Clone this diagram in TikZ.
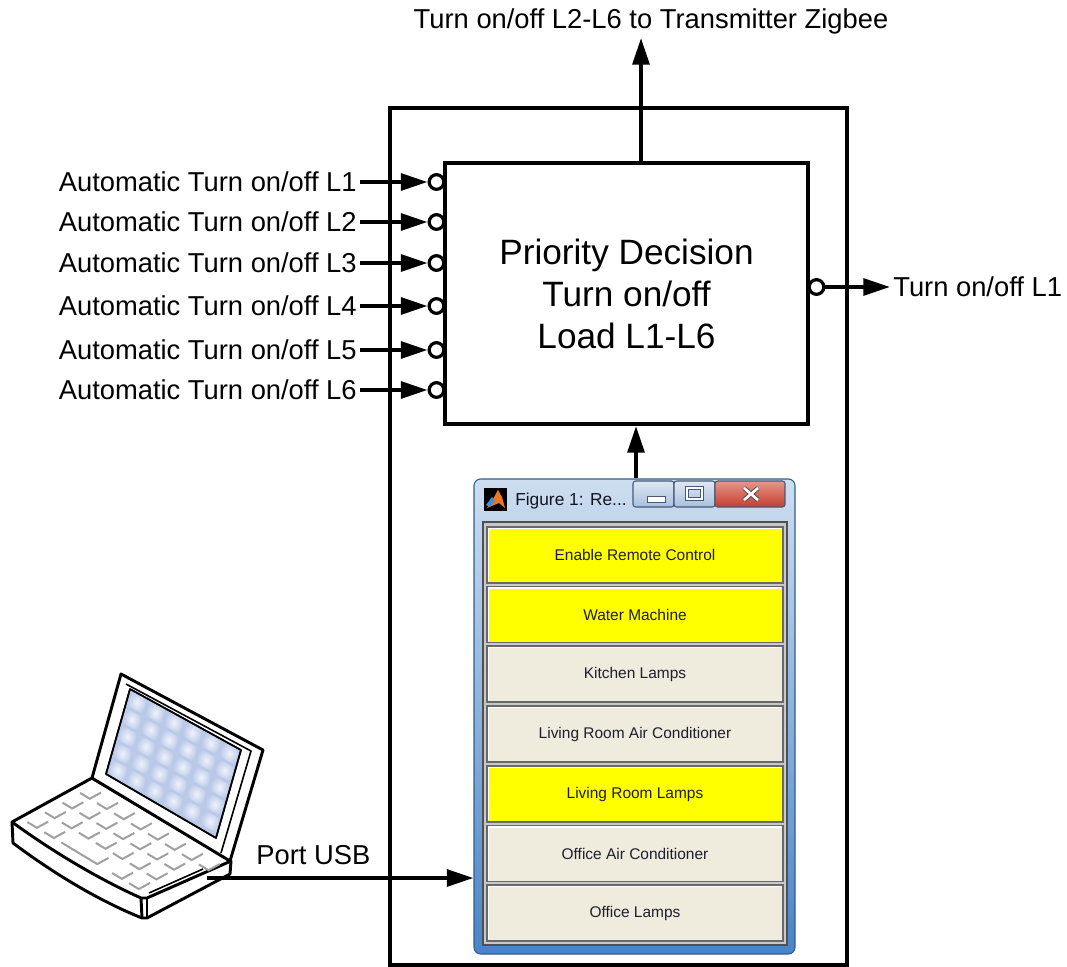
\documentclass[tikz,border=0pt]{standalone}
\usepackage{fontspec}
\setmainfont{Liberation Sans}
\usetikzlibrary{arrows.meta,calc}

\definecolor{btnyellow}{RGB}{255,255,0}
\definecolor{btnbeige}{RGB}{239,236,222}
\definecolor{btnedge}{RGB}{105,105,105}
\definecolor{btntext}{RGB}{30,30,45}
\definecolor{clientgray}{RGB}{200,200,200}
\definecolor{clientedge}{RGB}{80,80,80}
\definecolor{frameDark}{RGB}{52,92,140}
\definecolor{frameTop}{RGB}{205,222,240}
\definecolor{frameBot}{RGB}{72,132,200}
\definecolor{capTop}{RGB}{222,232,244}
\definecolor{capBot}{RGB}{168,192,222}
\definecolor{capEdge}{RGB}{70,90,120}
\definecolor{closeTop}{RGB}{232,150,138}
\definecolor{closeBot}{RGB}{196,62,46}
\definecolor{titletext}{RGB}{20,20,30}
\definecolor{keygray}{RGB}{160,160,160}
\definecolor{screenEdge}{RGB}{186,201,232}
\definecolor{screenMid}{RGB}{238,242,251}
\definecolor{mlorange}{RGB}{235,120,30}
\definecolor{mlblue}{RGB}{70,140,210}

\tikzset{
  wire/.style={line width=3pt,-{Triangle[length=20pt,width=12.5pt]}},
  port/.style={circle,draw,fill=white,line width=2.4pt,minimum size=11pt,inner sep=0pt},
  lbl/.style={font=\fontsize{20.5}{24}\selectfont,inner sep=0pt,outer sep=2.5pt,
    text height=14.6pt,text depth=0pt},
  block/.style={draw,line width=3pt,inner sep=0pt,fill=white},
  btn/.style={draw=btnedge,line width=1.3pt,minimum width=222pt,minimum height=42pt,
    inner sep=0pt,text=btntext,font=\fontsize{11.6}{14}\selectfont,
    path picture={\draw[white,line width=1.3pt]
      ([xshift=1.2pt,yshift=1.2pt]path picture bounding box.south west) |-
      ([xshift=-1.2pt,yshift=-1.2pt]path picture bounding box.north east);}},
  laptop/.style={line width=2.2pt,line join=round},
  keystroke/.style={keygray,line width=1.5pt,line join=miter}
}

\begin{document}
\begin{tikzpicture}[x=0.75pt,y=-0.75pt]
\useasboundingbox (0,0) rectangle (1067,967);

% controller housing and decision block
\node[draw,line width=3pt,minimum width=342.75pt,minimum height=642.75pt,inner sep=0pt]
  (housing) at (618.5,536.5) {};
\node[block,minimum width=272.25pt,minimum height=195.75pt,align=center,
  font=\fontsize{26.4}{31.5}\selectfont] (decision) at (626.5,293.5)
  {Priority Decision\\Turn on/off\\Load L1-L6};

% automatic inputs
\foreach \i/\y in {1/182,2/222,3/263,4/306,5/350,6/390}{
  \node[lbl,anchor=east] (in\i) at (360,\y) {Automatic Turn on/off L\i};
  \node[port] (c\i) at (436.5,\y) {};
  \draw[wire] (in\i.east) -- (c\i.west);
}

% output L1
\node[port] (c0) at (816.5,287) {};
\node[lbl,anchor=west] (out1) at (890,287) {Turn on/off L1};
\draw[wire] (c0.east) -- (out1.west);

% output to the Zigbee transmitter
\node[lbl,anchor=base,outer sep=7.5pt] (zigbee) at (651,28)
  {Turn on/off L2-L6 to Transmitter Zigbee};
\coordinate (zup) at ($(decision.north)+(14.5,0)$);
\draw[wire] (zup) -- (zup |- zigbee.south);

% GUI window
\node[draw=frameDark,line width=0.8pt,rounded corners=5pt,top color=frameTop,
  bottom color=frameBot,minimum width=240.75pt,minimum height=356.25pt,inner sep=0pt]
  (gui) at (634.5,716.5) {};
\coordinate (gup) at ($(gui.north)+(1.5,0)$);
\draw[wire] (gup) -- (gup |- decision.south);

% title bar: icon, caption, window buttons
\fill[black] (484,488) rectangle (507,511);
\fill[mlorange] (487,508) -- (493,499) -- (498,490) -- (502,497) -- (505,508) -- (499,503) -- cycle;
\fill[mlblue] (486,505) -- (492,497) -- (495,501) -- (490,507) -- cycle;
\node[anchor=base west,inner sep=0pt,font=\fontsize{13}{15}\selectfont,text=titletext]
  (title) at (515,505) {Figure 1: Re...};
\draw[capEdge,top color=capTop,bottom color=capBot,rounded corners=2pt,line width=0.8pt]
  (633,481) rectangle (674,507);
\draw[capEdge,top color=capTop,bottom color=capBot,rounded corners=2pt,line width=0.8pt]
  (674,481) rectangle (715,507);
\draw[capEdge,top color=closeTop,bottom color=closeBot,rounded corners=2pt,line width=0.8pt]
  (715,481) rectangle (785,507);
\filldraw[fill=white,draw=capEdge,line width=0.6pt] (647,496) rectangle (665,502);
\draw[capEdge,line width=2.6pt] (687,488) rectangle (702,499);
\draw[white,line width=1.3pt] (687,488) rectangle (702,499);
\draw[black!70,line width=3.4pt] (744,488) -- (758,500) (744,500) -- (758,488);
\draw[white,line width=2pt] (744,488) -- (758,500) (744,500) -- (758,488);

% client area and push buttons
\filldraw[fill=clientgray,draw=clientedge,line width=0.8pt] (483,522) rectangle (787,945);
\foreach \n/\y/\c/\t in {
  1/555/btnyellow/Enable Remote Control,
  2/614.5/btnyellow/Water Machine,
  3/674/btnbeige/Kitchen Lamps,
  4/734/btnbeige/Living Room Air Conditioner,
  5/794/btnyellow/Living Room Lamps,
  6/853.5/btnbeige/Office Air Conditioner,
  7/913/btnbeige/Office Lamps}{
  \node[btn,fill=\c] (b\n) at (635,\y) {\t};
}

% laptop
\begin{scope}[laptop]
  \filldraw[fill=white] (12,822) -- (13,843) .. controls (57,876) and (102,902) .. (142,918)
    -- (147,918) -- (230,874) -- (231,861) -- (92,778) -- cycle;
  \draw (12,822) .. controls (56,854) and (101,880) .. (141,898) -- (147,898) -- (231,861);
  \draw (141,898) -- (142,918);
  \draw[line width=1.2pt] (147,898) -- (147,917);
  \draw[line width=1.2pt] (149,893) -- (203,869);
  % keyboard: four rows along the hinge, long space bar in the front row
  \begin{scope}[shift={(69pt,-583.5pt)},x={(103.5pt,-62.25pt)},y={(-60pt,-33pt)},keystroke]
    \foreach \i in {0,...,7}
      \draw ({0.053+0.123*\i},0.24) -- ++(0.07,0) -- ++(0,-0.14);
    \foreach \i in {0,...,6}{
      \draw ({0.053+0.123*\i},0.46) -- ++(0.07,0) -- ++(0,-0.14);
      \draw ({0.053+0.123*\i},0.68) -- ++(0.07,0) -- ++(0,-0.14);
    }
    \foreach \i in {0,1,5,6}
      \draw ({0.053+0.123*\i},0.90) -- ++(0.07,0) -- ++(0,-0.14);
    \draw (0.299,0.90) -- (0.56,0.90) -- ++(0,-0.14);
  \end{scope}
  % lid and screen
  \filldraw[fill=white] (121,674) -- (263,750) -- (230,861) -- (92,778) -- cycle;
  \draw[line width=1.2pt] (126,684) -- (251,751) -- (221,853);
  \filldraw[fill=screenEdge,line width=1.2pt] (130,689) -- (241,750) -- (216,838) -- (106,774) -- cycle;
  \begin{scope}[shift={(97.5pt,-516.75pt)},x={(13.875pt,-7.625pt)},y={(-3.6pt,-12.75pt)}]
    \foreach \i in {0,...,5}
      \foreach \j in {0,...,4}
        \shade[inner color=screenMid,outer color=screenEdge]
          (\i+0.08,\j+0.08) -- ++(0.84,0) -- ++(0,0.84) -- ++(-0.84,0) -- cycle;
  \end{scope}
  \draw[line width=1.2pt] (130,689) -- (241,750) -- (216,838) -- (106,774) -- cycle;
\end{scope}
\coordinate (usb) at (207,878);
\node[lbl,anchor=base west] (portusb) at (253,864) {Port USB};
\draw[wire] (usb) -- (usb -| gui.west);

\end{tikzpicture}
\end{document}
